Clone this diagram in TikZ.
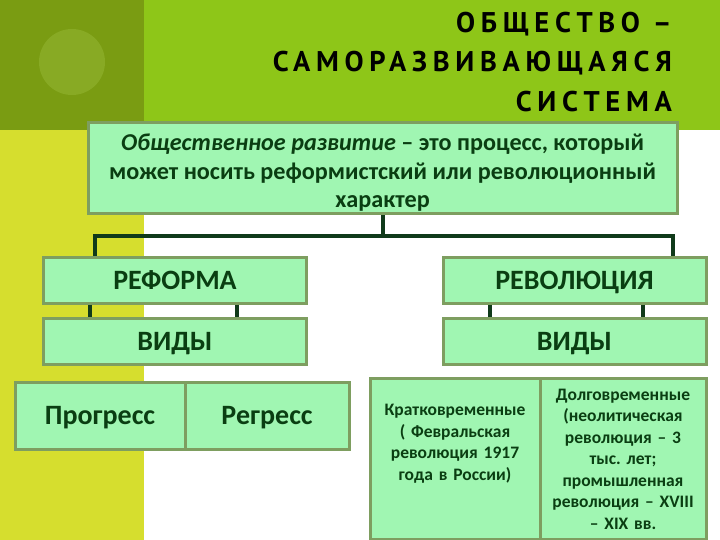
\documentclass[tikz,border=0pt]{standalone}
\usepackage{fontspec}
\setmainfont{Carlito}
\newfontfamily\titlefont[LetterSpace=20]{PT Sans Bold}
\definecolor{darksq}{RGB}{122,156,18}
\definecolor{circ}{RGB}{136,170,36}
\definecolor{band}{RGB}{142,198,24}
\definecolor{ystrip}{RGB}{214,222,46}
\definecolor{boxfill}{RGB}{160,246,178}
\definecolor{boxedge}{RGB}{126,158,96}
\definecolor{conncol}{RGB}{16,58,26}
\definecolor{txt}{RGB}{10,62,18}
\tikzset{
  gbox/.style={draw=boxedge, line width=3pt, fill=boxfill, inner sep=0pt, align=center, text=txt, font=\bfseries},
  bigtxt/.style={font=\bfseries\fontsize{28}{30}\selectfont, text height=18pt, text depth=0pt},
  smalltxt/.style={font=\bfseries\fontsize{17.5}{21.5}\selectfont},
  conn/.style={draw=conncol, line width=4pt},
}
\begin{document}
\frenchspacing
\begin{tikzpicture}[x=1pt,y=-1pt]
\useasboundingbox (0,0) rectangle (720,540);
% background
\fill[white] (0,0) rectangle (720,540);
\fill[band] (0,0) rectangle (720,130);
\fill[darksq] (0,0) rectangle (144,130);
\fill[ystrip] (0,130) rectangle (144,540);
\fill[circ] (72,62) circle (33);
% title
\node[anchor=east, align=right, font=\titlefont\fontsize{28.5}{39.5}\selectfont, inner sep=0pt, text=black] (title) at (672,62)
  {ОБЩЕСТВО –\\САМОРАЗВИВАЮЩАЯСЯ\\СИСТЕМА};
% main box
\node[gbox, minimum width=589, minimum height=91, font=\bfseries\fontsize{24.2}{28.5}\selectfont] (main) at (382.5,168.5)
  {\parbox[c][91pt][t]{585pt}{\centering\vspace*{11pt}\textit{Общественное развитие} – это процесс, который\\может носить реформистский или революционный\\характер}};
% level 2
\node[gbox, bigtxt, minimum width=263, minimum height=46] (ref) at (175,280) {РЕФОРМА};
\node[gbox, bigtxt, minimum width=263, minimum height=46] (rev) at (574.5,280) {РЕВОЛЮЦИЯ};
\node[gbox, bigtxt, minimum width=263, minimum height=46] (vidyL) at (175,341) {ВИДЫ};
\node[gbox, bigtxt, minimum width=263, minimum height=46] (vidyR) at (574.5,341) {ВИДЫ};
% bottom
\node[gbox, bigtxt, minimum width=170, minimum height=67] (prog) at (100,415.5) {Прогресс};
\node[gbox, bigtxt, minimum width=164, minimum height=67] (regr) at (267,415.5) {Регресс};
\node[gbox, smalltxt, minimum width=170, minimum height=161, text width=166, anchor=north] (krat) at (455,377)
  {Кратковременные\\( Февральская\\революция 1917\\года в России)\\[12pt]\mbox{}};
\node[gbox, smalltxt, minimum width=166, minimum height=161, text width=164, anchor=north] (dolg) at (623,377)
  {Долговременные\\(неолитическая\\революция – 3\\тыс. лет;\\промышленная\\революция – XVIII\\– XIX вв.};
% connectors
\coordinate (jl) at (95,236);
\coordinate (jr) at (673,236);
\draw[conn] (main.south) -- (main.south |- jl);
\draw[conn] (ref.north -| jl) -- (jl) -- (jr) -- (rev.north -| jr);
\draw[conn] ([xshift=-85pt]ref.south) -- ([xshift=-85pt]vidyL.north);
\draw[conn] ([xshift=62pt]ref.south) -- ([xshift=62pt]vidyL.north);
\draw[conn] ([xshift=-85pt]rev.south) -- ([xshift=-85pt]vidyR.north);
\draw[conn] ([xshift=68pt]rev.south) -- ([xshift=68pt]vidyR.north);
\end{tikzpicture}
\end{document}
